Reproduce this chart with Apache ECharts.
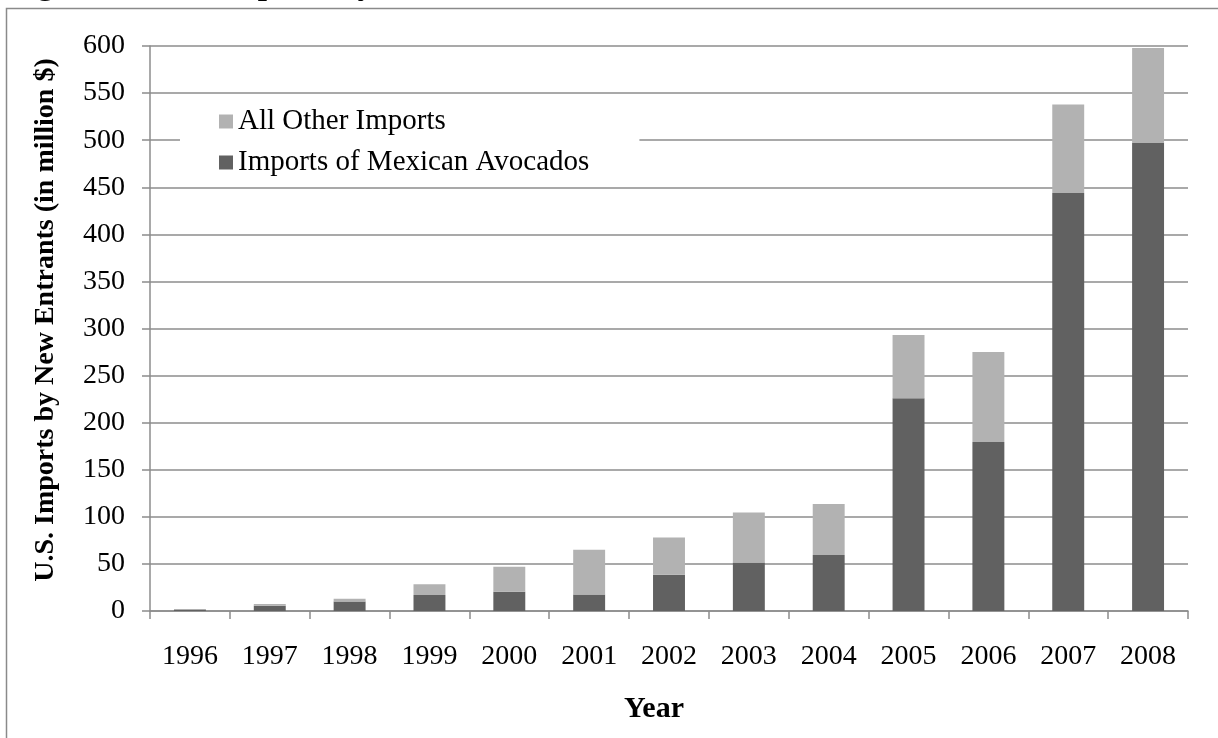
<!DOCTYPE html>
<html>
<head>
<meta charset="utf-8">
<script src="https://cdn.jsdelivr.net/npm/echarts@6/dist/echarts.min.js"></script>
<style>
  html, body { margin: 0; padding: 0; background: #fff; }
  #chart { width: 1218px; height: 738px; }
</style>
</head>
<body>
<div id="chart"></div>
<script>
// U.S. imports by new entrants, in million dollars
const years = ['1996', '1997', '1998', '1999', '2000', '2001', '2002', '2003', '2004', '2005', '2006', '2007', '2008'];
const mexicanAvocados = [1.5, 5.5, 10, 17, 20.5, 17.5, 38.5, 51.5, 59.5, 226, 179.5, 444, 497];
const allOtherImports = [0.5, 2, 3, 11.5, 26.5, 47.5, 39.5, 53, 54, 67, 95.5, 94, 101];
const yMin = 0, yMax = 600, yStep = 50;

const serif = '"Liberation Serif", "Times New Roman", serif';
const lineGray = '#8c8c8c';

const chart = echarts.init(document.getElementById('chart'), null, { renderer: 'canvas' });

chart.setOption({
  backgroundColor: '#fff',
  animation: false,
  grid: { left: 150, right: 30, top: 46, bottom: 127, containLabel: false },
  legend: {
    data: ['All Other Imports', 'Imports of Mexican Avocados'],
    orient: 'vertical',
    left: 180,
    top: 99,
    padding: [8, 50, 6, 39],
    backgroundColor: '#fff',
    icon: 'rect',
    itemWidth: 14,
    itemHeight: 14,
    itemGap: 12,
    textStyle: { fontFamily: serif, fontSize: 29, lineHeight: 29, color: '#000' }
  },
  xAxis: {
    type: 'category',
    data: years,
    axisLine: { show: true, lineStyle: { color: lineGray, width: 1.5 } },
    axisTick: { show: true, length: 8, interval: 0, lineStyle: { color: lineGray, width: 1.5 } },
    axisLabel: { fontFamily: serif, fontSize: 28, color: '#000', margin: 32, interval: 0 },
    splitLine: { show: false }
  },
  yAxis: {
    type: 'value',
    min: yMin,
    max: yMax,
    interval: yStep,
    axisLine: { show: true, lineStyle: { color: lineGray, width: 1.5 } },
    axisTick: { show: true, length: 8, lineStyle: { color: lineGray, width: 1.5 } },
    axisLabel: { fontFamily: serif, fontSize: 28, color: '#000', margin: 25 },
    splitLine: { show: true, lineStyle: { color: lineGray, width: 1.5 } }
  },
  series: [
    {
      name: 'Imports of Mexican Avocados',
      type: 'bar',
      stack: 'imports',
      data: mexicanAvocados,
      barCategoryGap: '60%',
      itemStyle: { color: '#616161' }
    },
    {
      name: 'All Other Imports',
      type: 'bar',
      stack: 'imports',
      data: allOtherImports,
      barCategoryGap: '60%',
      itemStyle: { color: '#b2b2b2' }
    }
  ],
  graphic: [
    {
      type: 'rect',
      z: -1,
      shape: { x: 6.5, y: 8.5, width: 1400, height: 1000 },
      style: { fill: 'none', stroke: '#8a8a8a', lineWidth: 1.5 }
    },
    {
      type: 'text',
      x: 8,
      y: -15,
      style: {
        text: 'Figure 3.  U.S. Imports by New Entrants, 1996-2008',
        font: 'bold 33px ' + serif,
        fill: '#000',
        verticalAlign: 'middle'
      }
    },
    {
      type: 'text',
      x: 46,
      y: 320,
      rotation: Math.PI / 2,
      style: {
        text: 'U.S. Imports by New Entrants (in million $)',
        font: 'bold 28px ' + serif,
        fill: '#000',
        align: 'center',
        verticalAlign: 'middle'
      }
    },
    {
      type: 'text',
      x: 654,
      y: 709,
      style: {
        text: 'Year',
        font: 'bold 30px ' + serif,
        fill: '#000',
        align: 'center',
        verticalAlign: 'middle'
      }
    }
  ]
});
</script>
</body>
</html>
